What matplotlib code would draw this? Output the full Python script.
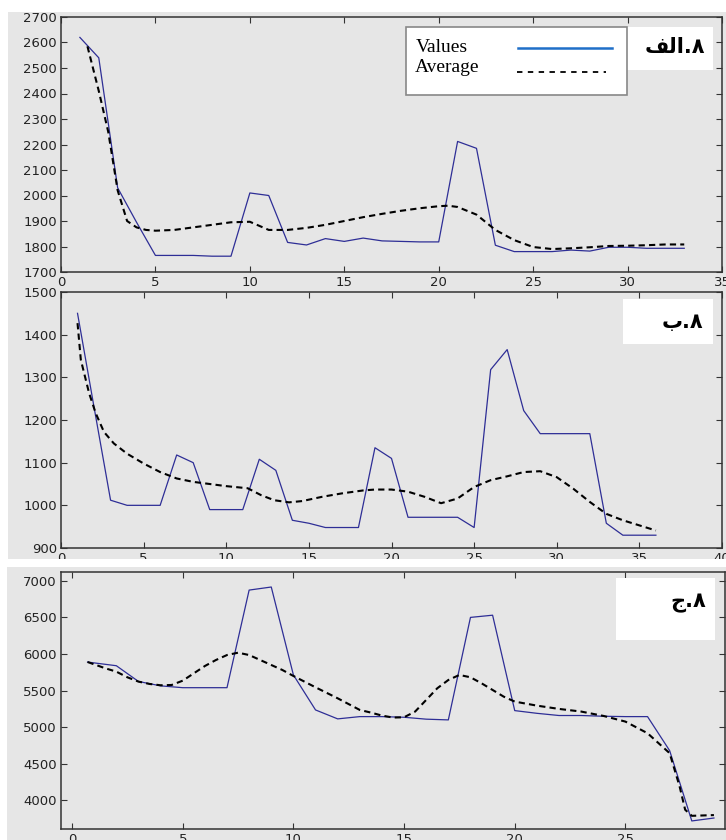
"""
三个面板的折线图：Values 与 Average
"""
import matplotlib
matplotlib.use('Agg')
import matplotlib.pyplot as plt
from matplotlib.patches import Rectangle
from matplotlib.lines import Line2D

# 面板 ۸.الف
x_a = list(range(1, 34))
values_a = [2620, 2540, 2030, 1895, 1765, 1765, 1765, 1762, 1762, 2010, 2000, 1816,
            1806, 1831, 1820, 1833, 1822, 1820, 1818, 1818, 2212, 2185, 1805, 1780,
            1780, 1780, 1786, 1782, 1797, 1797, 1793, 1793, 1793]
avg_x_a = [1.4, 2, 2.5, 3, 3.5, 4, 4.5, 5, 6, 7, 8, 9, 10, 11, 12, 13, 14, 15, 16, 17,
           18, 19, 20, 20.5, 21, 22, 23, 24, 25, 26, 27, 28, 29, 30, 31, 32, 33]
avg_a = [2585, 2410, 2250, 2020, 1900, 1875, 1865, 1862, 1865, 1875, 1885, 1895, 1897,
         1865, 1865, 1873, 1885, 1900, 1915, 1928, 1940, 1950, 1958, 1960, 1955, 1925,
         1865, 1825, 1798, 1790, 1793, 1797, 1802, 1803, 1805, 1808, 1808]

# 面板 ۸.ب
x_b = list(range(1, 37))
values_b = [1450, 1230, 1012, 1000, 1000, 1000, 1118, 1100, 990, 990, 990, 1108, 1082,
            965, 958, 948, 948, 948, 1135, 1110, 972, 972, 972, 972, 948, 1318, 1365,
            1222, 1168, 1168, 1168, 1168, 958, 930, 930, 930]
avg_x_b = [1, 1.2, 1.7, 2.1, 2.6, 3.2, 4, 5, 6, 7, 8, 9, 10, 11.3, 12.1, 12.9, 13.8,
           14.6, 15.8, 17, 18.3, 19, 20, 21, 22, 23, 24, 25, 26, 27, 28, 29, 30, 31,
           32, 33, 34, 35, 36]
avg_b = [1427, 1341, 1263, 1216, 1172, 1145, 1121, 1098, 1078, 1063, 1055, 1050, 1045,
         1040, 1024, 1012, 1007, 1010, 1020, 1028, 1035, 1037, 1037, 1032, 1020, 1005,
         1016, 1043, 1059, 1068, 1078, 1080, 1066, 1039, 1008, 980, 965, 953, 941]

# 面板 ۸.ج
x_c = [0.7] + list(range(2, 30))
values_c = [5890, 5840, 5625, 5565, 5540, 5540, 5540, 6873, 6915, 5714, 5236, 5114,
            5145, 5145, 5136, 5110, 5100, 6500, 6530, 5227, 5190, 5160, 5160, 5150,
            5145, 5145, 4680, 3720, 3760]
avg_x_c = [0.7, 1.5, 2, 2.5, 3, 3.5, 4, 4.5, 5, 5.5, 6, 6.5, 7, 7.5, 8, 8.5, 9, 9.5,
           10, 11, 12, 13, 13.5, 14, 14.5, 15, 15.5, 16, 16.5, 17, 17.5, 18, 18.5, 19,
           19.5, 20, 21, 22, 23, 24, 25, 26, 27, 27.45, 27.7, 28, 28.5, 29]
avg_c = [5891, 5805, 5759, 5682, 5623, 5591, 5573, 5577, 5636, 5736, 5836, 5918, 5986,
         6018, 5986, 5918, 5850, 5782, 5700, 5545, 5395, 5236, 5200, 5159, 5132, 5136,
         5214, 5373, 5532, 5645, 5714, 5682, 5600, 5509, 5418, 5350, 5295, 5250, 5214,
         5155, 5077, 4918, 4645, 4190, 3873, 3790, 3795, 3800]

# 面板标签（波斯文，按显示顺序写出的字形）
labels = ['\uFED2\uFEDF\uFE8D.\u06F8', '\uFE8F.\u06F8', '\uFE9D.\u06F8']

W, H = 726, 840
gray = '#e6e6e6'
navy = '#2e2e96'

fig = plt.figure(figsize=(W / 100, H / 100), dpi=100, facecolor='white')

# 灰色背景块
fig.patches.append(Rectangle((8 / W, 1 - 559 / H), 718 / W, 547 / H,
                             transform=fig.transFigure, facecolor=gray,
                             edgecolor='none', zorder=-5))
fig.patches.append(Rectangle((7 / W, 0), 719 / W, 1 - 567 / H,
                             transform=fig.transFigure, facecolor=gray,
                             edgecolor='none', zorder=-5))
# 面板之间的白色间隔
fig.patches.append(Rectangle((0, 1 - 567 / H), 1, 8 / H,
                             transform=fig.transFigure, facecolor='white',
                             edgecolor='none', zorder=5))


def make_ax(left, top, right, bottom):
    ax = fig.add_axes([left / W, 1 - bottom / H, (right - left) / W, (bottom - top) / H])
    ax.set_facecolor(gray)
    for s in ax.spines.values():
        s.set_color('#333333')
        s.set_linewidth(1.1)
    ax.tick_params(axis='both', direction='in', length=4, width=0.8,
                   top=True, right=True, labelsize=9.5, colors='#333333',
                   labelcolor='#222222', pad=3)
    return ax


def draw(ax, x, v, ax_x, av):
    ax.plot(x, v, color=navy, linewidth=0.9)
    line, = ax.plot(ax_x, av, color='black', linewidth=1.5)
    line.set_dashes([3, 2])


def panel_label(ax, text, x0, x1, y0, y1, tx, ty):
    ax.add_patch(Rectangle((x0, y0), x1 - x0, y1 - y0, transform=ax.transAxes,
                           facecolor='white', edgecolor='none', zorder=4))
    ax.text(tx, ty, text, transform=ax.transAxes, ha='right', va='center',
            fontsize=15, fontweight='bold', family=['DejaVu Sans'], zorder=5)


# 面板 1
ax1 = make_ax(61, 17, 722, 272)
draw(ax1, x_a, values_a, avg_x_a, avg_a)
ax1.set_xlim(0, 35)
ax1.set_ylim(1700, 2700)
ax1.set_xticks(range(0, 36, 5))
ax1.set_yticks(range(1700, 2701, 100))
panel_label(ax1, labels[0], 0.835, 0.986, 0.792, 0.961, 0.974, 0.882)

# 图例（文字在左，线在右）
ax1.add_patch(Rectangle((0.522, 0.694), 0.334, 0.267, transform=ax1.transAxes,
                        facecolor='white', edgecolor='#888888', linewidth=1.2, zorder=6))
ax1.text(0.536, 0.880, 'Values', transform=ax1.transAxes, va='center', ha='left',
         fontsize=14, family='Liberation Serif', zorder=7)
ax1.text(0.536, 0.800, 'Average', transform=ax1.transAxes, va='center', ha='left',
         fontsize=14, family='Liberation Serif', zorder=7)
ax1.add_line(Line2D([0.691, 0.834], [0.878, 0.878], transform=ax1.transAxes,
                    color='#1f6fc8', linewidth=1.8, zorder=7))
leg_dash = Line2D([0.690, 0.825], [0.784, 0.784], transform=ax1.transAxes,
                  color='black', linewidth=1.3, zorder=7)
leg_dash.set_dashes([3, 3])
ax1.add_line(leg_dash)

# 面板 2
ax2 = make_ax(61, 292, 722, 548)
draw(ax2, x_b, values_b, avg_x_b, avg_b)
ax2.set_xlim(0, 40)
ax2.set_ylim(900, 1500)
ax2.set_xticks(range(0, 41, 5))
ax2.set_yticks(range(900, 1501, 100))
panel_label(ax2, labels[1], 0.850, 0.986, 0.797, 0.973, 0.971, 0.883)

# 面板 3
ax3 = make_ax(61, 572, 725, 829)
draw(ax3, x_c, values_c, avg_x_c, avg_c)
ax3.set_xlim(-0.5, 29.5)
ax3.set_ylim(3610, 7120)
ax3.set_xticks(range(0, 30, 5))
ax3.set_yticks(range(4000, 7001, 500))
panel_label(ax3, labels[2], 0.836, 0.985, 0.735, 0.977, 0.971, 0.879)

fig.savefig('out.png', dpi=100, facecolor='white')
